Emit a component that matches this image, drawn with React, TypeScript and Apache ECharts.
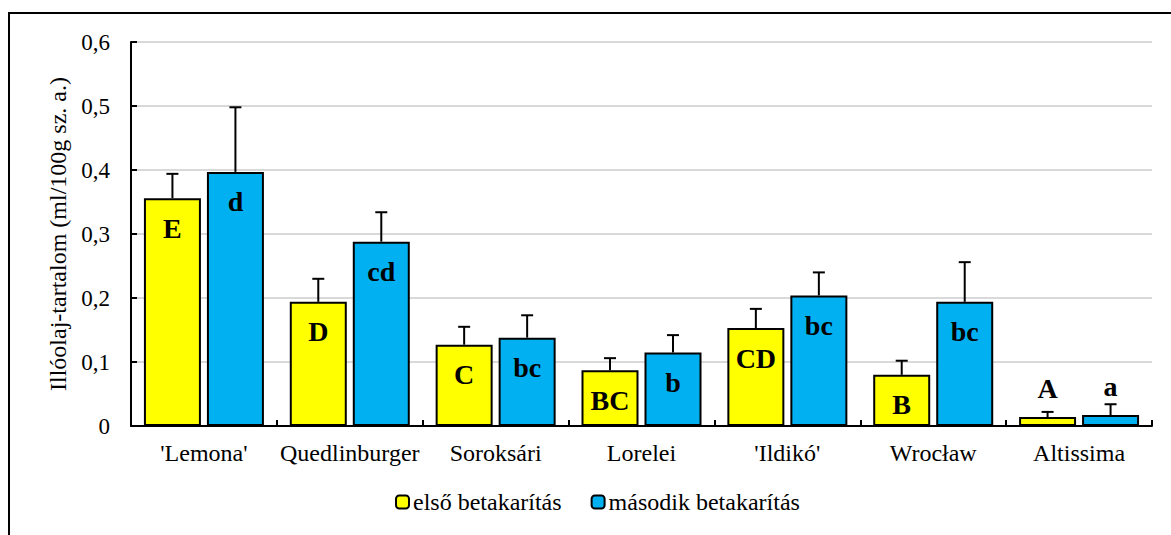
import React, { useEffect, useRef } from "react";
import * as echarts from "echarts";

const categories = ["'Lemona'", "Quedlinburger", "Soroksári", "Lorelei", "'Ildikó'", "Wrocław", "Altissima"];
const seriesNames = ["első betakarítás", "második betakarítás"];
const firstValues = [0.356, 0.194, 0.127, 0.087, 0.153, 0.08, 0.014];
const firstErrTop = [0.394, 0.230, 0.155, 0.106, 0.183, 0.102, 0.022];
const firstLetters = ["E", "D", "C", "BC", "CD", "B", "A"];
const secondValues = [0.397, 0.288, 0.138, 0.115, 0.204, 0.194, 0.017];
const secondErrTop = [0.498, 0.334, 0.173, 0.142, 0.240, 0.256, 0.034];
const secondLetters = ["d", "cd", "bc", "b", "bc", "bc", "a"];
const yTicks = [0, 0.1, 0.2, 0.3, 0.4, 0.5, 0.6];
const yAxisTitle = "Illóolaj-tartalom (ml/100g sz. a.)";

const FONT = "'Liberation Serif', 'Times New Roman', serif";
const BAR_W = 57;
const GAP = 6;

export default function App() {
  const ref = useRef<HTMLDivElement>(null);
  useEffect(() => {
    if (!ref.current) return;
    const chart = echarts.init(ref.current, null, { renderer: "svg" });
    const mkBarData = (vals: number[], letters: string[]) =>
      vals.map((v, i) => {
        const small = v < 0.05;
        return {
          value: v,
          label: small
            ? { show: true, position: "top", distance: 15, formatter: letters[i] }
            : { show: true, position: "insideTop", distance: 16, formatter: letters[i] },
        };
      });
    const errData = (vals: number[], tops: number[]) => vals.map((v, i) => [i, v, tops[i]]);
    const mkErr = (offsetSign: number) => (params: any, api: any) => {
      const idx = api.value(0);
      const p0 = api.coord([idx, api.value(1)]);
      const p1 = api.coord([idx, api.value(2)]);
      const x = p0[0] + offsetSign * (BAR_W / 2 + GAP / 2);
      return {
        type: "group",
        children: [
          { type: "line", shape: { x1: x, y1: p0[1], x2: x, y2: p1[1] }, style: { stroke: "#000", lineWidth: 2 } },
          { type: "line", shape: { x1: x - 6, y1: p1[1], x2: x + 6, y2: p1[1] }, style: { stroke: "#000", lineWidth: 2 } },
        ],
      };
    };
    const labelStyle = { color: "#000", fontFamily: FONT, fontWeight: "bold", fontSize: 28 };
    chart.setOption({
      animation: false,
      textStyle: { fontFamily: FONT },
      graphic: [
        { type: "rect", shape: { x: 9, y: 13, width: 1200, height: 600 }, style: { fill: "none", stroke: "#000", lineWidth: 2 }, silent: true },
      ],
      grid: { left: 131, right: 19, top: 42, bottom: 109, containLabel: false },
      legend: {
        top: 490,
        left: 395,
        padding: 0,
        itemWidth: 13,
        itemHeight: 13,
        itemGap: 29,
        textStyle: { fontFamily: FONT, fontSize: 24, color: "#000", padding: [0, 0, 0, -1] },
        data: seriesNames,
      },
      xAxis: {
        type: "category",
        data: categories,
        axisLine: { lineStyle: { color: "#000", width: 2 } },
        axisTick: { show: true, inside: true, length: 6, lineStyle: { color: "#000", width: 2 } },
        axisLabel: { fontFamily: FONT, fontSize: 24, color: "#000", margin: 15, interval: 0, hideOverlap: false },
      },
      yAxis: {
        type: "value",
        min: 0,
        max: 0.6,
        interval: 0.1,
        name: yAxisTitle,
        nameLocation: "middle",
        nameGap: 61,
        nameTextStyle: { fontFamily: FONT, fontSize: 24, color: "#000" },
        axisLine: { show: true, lineStyle: { color: "#000", width: 2 } },
        axisTick: { show: true, inside: true, length: 6, lineStyle: { color: "#000", width: 2 } },
        axisLabel: {
          fontFamily: FONT,
          fontSize: 23,
          color: "#000",
          margin: 21,
          formatter: (v: number) => {
            const t = yTicks.find((k) => Math.abs(k - v) < 1e-9);
            return t === 0 ? "0" : (t ?? v).toFixed(1).replace(".", ",");
          },
        },
        splitLine: { lineStyle: { color: "#D9D9D9", width: 2 } },
      },
      series: [
        {
          name: seriesNames[0],
          type: "bar",
          barWidth: BAR_W,
          barGap: (GAP / BAR_W) * 100 + "%",
          itemStyle: { color: "#FFFF00", borderColor: "#000", borderWidth: 2 },
          label: labelStyle,
          data: mkBarData(firstValues, firstLetters),
          z: 2,
        },
        {
          name: seriesNames[1],
          type: "bar",
          barWidth: BAR_W,
          barGap: (GAP / BAR_W) * 100 + "%",
          itemStyle: { color: "#00B0F0", borderColor: "#000", borderWidth: 2 },
          label: labelStyle,
          data: mkBarData(secondValues, secondLetters),
          z: 2,
        },
        {
          type: "custom",
          renderItem: mkErr(-1),
          data: errData(firstValues, firstErrTop),
          encode: { x: 0, y: [1, 2] },
          z: 1,
          silent: true,
        },
        {
          type: "custom",
          renderItem: mkErr(1),
          data: errData(secondValues, secondErrTop),
          encode: { x: 0, y: [1, 2] },
          z: 1,
          silent: true,
        },
      ],
    });
    return () => chart.dispose();
  }, []);
  return <div ref={ref} style={{ position: "fixed", left: 0, top: 0, width: 1171, height: 535, background: "#fff" }} />;
}
